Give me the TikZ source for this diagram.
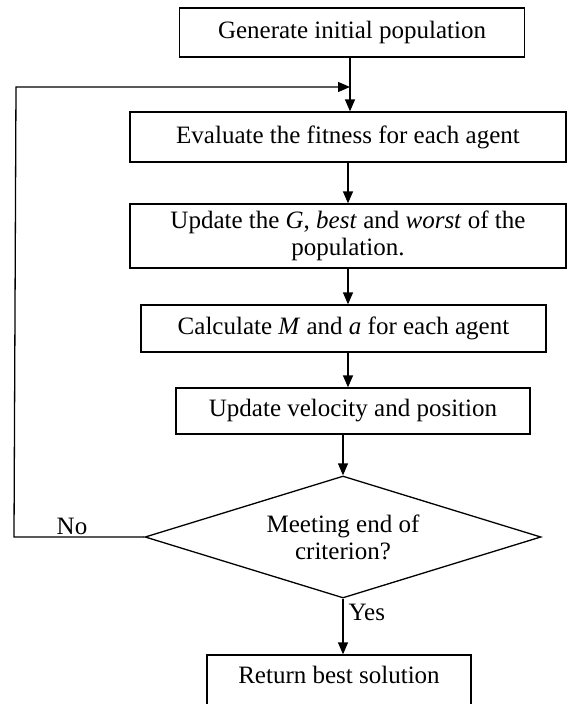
\documentclass[tikz,border=0pt]{standalone}
\usepackage{fontspec}
\setmainfont{Liberation Serif}
\usetikzlibrary{shapes.geometric,arrows.meta}
\begin{document}
\begin{tikzpicture}[x=1pt,y=-1pt,
  font=\fontsize{25}{27}\selectfont,
  line width=1.3pt,
  box/.style={draw, rectangle, inner sep=0pt, align=center},
  dec/.style={draw, diamond, aspect=3.25, inner sep=0pt, align=center, minimum width=396pt, minimum height=122pt},
  arr/.style={-{Triangle[length=12pt,width=10pt]}},
  lbl/.style={inner sep=0pt}]
\useasboundingbox (0,0) rectangle (571,704);
\node[box, minimum width=345pt, minimum height=49pt] (b1) at (352,32.5) {Generate initial population};
\node[box, minimum width=436pt, minimum height=50pt] (b2) at (348,137) {Evaluate the fitness for each agent};
\node[box, minimum width=436pt, minimum height=64pt] (b3) at (348,236) {Update the \textit{G}, \textit{best} and \textit{worst} of the\\population.};
\node[box, minimum width=405pt, minimum height=47pt] (b4) at (343.5,328.5) {Calculate \textit{M} and \textit{a} for each agent};
\node[box, minimum width=354pt, minimum height=46pt] (b5) at (353,411) {Update velocity and position};
\node[dec] (d) at (343,537) {Meeting end of\\criterion?};
\node[box, minimum width=264pt, minimum height=54pt] (b6) at (339,682) {};
\node[lbl] (t6) at (339,675) {Return best solution};
\node[lbl] (no) at (72,526) {No};
\node[lbl, anchor=west] (yes) at (348,612) {Yes};
\coordinate (j) at (350,87);
\coordinate (c1) at (14,537);
\coordinate (c2) at (16,87);
\coordinate (k) at (348,0);
\draw[arr] (b1.south -| j) -- (j |- b2.north);
\draw[arr] (d.west) -- (c1) -- (c2) -- (j);
\draw[arr] (b2.south -| k) -- (k |- b3.north);
\draw[arr] (b3.south -| k) -- (k |- b4.north);
\draw[arr] (b4.south -| k) -- (k |- b5.north);
\draw[arr] (b5.south -| d.north) -- (d.north);
\draw[arr] (d.south) -- (d.south |- b6.north);
\end{tikzpicture}
\end{document}
